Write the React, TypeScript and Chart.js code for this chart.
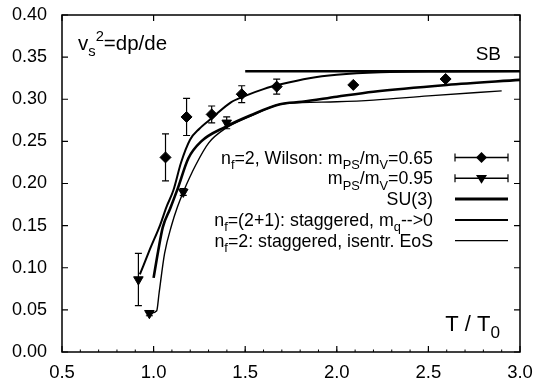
import React, { useEffect, useRef } from "react";
import { Chart, registerables } from "chart.js";

Chart.register(...registerables);

const FONT = '"Liberation Sans", Arial, Helvetica, sans-serif';

// Axis ranges / ticks
const xRange = [0.5, 3.0];
const yRange = [0.0, 0.4];
const xStep = 0.5;
const xMinorStep = 0.1;
const yStep = 0.05;

// n_f=2 Wilson, mPS/mV = 0.65 (diamonds)
const w065X = [1.065, 1.18, 1.317, 1.481, 1.672, 2.09, 2.594];
const w065Y = [0.231, 0.279, 0.282, 0.306, 0.315, 0.317, 0.324];
const w065Err = [0.028, 0.022, 0.01, 0.01, 0.009, 0.0, 0.0];

// n_f=2 Wilson, mPS/mV = 0.95 (down triangles)
const w095X = [0.917, 0.977, 1.162, 1.399];
const w095Y = [0.086, 0.046, 0.19, 0.272];
const w095Err = [0.031, 0.003, 0.004, 0.007];

// SU(3)
const su3X = [1.0, 1.025, 1.05, 1.09, 1.13, 1.19, 1.26, 1.39, 1.53, 1.69, 1.81, 2.0, 2.2, 2.6, 3.0];
const su3Y = [0.088, 0.12, 0.148, 0.17, 0.193, 0.23, 0.25, 0.267, 0.281, 0.294, 0.297, 0.303, 0.309, 0.317, 0.323];

// n_f=(2+1) staggered, m_q -> 0
const nf21X = [0.925, 0.98, 1.036, 1.07, 1.108, 1.15, 1.199, 1.25, 1.32, 1.42, 1.5, 1.6, 1.7, 1.85, 2.0, 2.24, 2.6, 3.0];
const nf21Y = [0.092, 0.122, 0.151, 0.172, 0.192, 0.225, 0.252, 0.265, 0.278, 0.296, 0.304, 0.312, 0.318, 0.325, 0.329, 0.332, 0.333, 0.3335];

// n_f=2 staggered, isentropic EoS
const nf2X = [0.985, 1.017, 1.03, 1.06, 1.099, 1.13, 1.162, 1.23, 1.3, 1.39, 1.53, 1.69, 1.81, 2.0, 2.2, 2.5, 2.9];
const nf2Y = [0.046, 0.049, 0.07, 0.117, 0.151, 0.172, 0.19, 0.222, 0.248, 0.265, 0.28, 0.294, 0.296, 0.297, 0.299, 0.304, 0.31];

// Stefan-Boltzmann limit
const sbX = [1.5, 3.0];
const sbY = [1 / 3, 1 / 3];

type Seg = { t: string; s?: "sub" | "sup" };

const legendRows: { text: Seg[]; kind: string; width: number }[] = [
  { text: [{ t: "n" }, { t: "f", s: "sub" }, { t: "=2, Wilson: m" }, { t: "PS", s: "sub" }, { t: "/m" }, { t: "V", s: "sub" }, { t: "=0.65" }], kind: "diamond", width: 1.5 },
  { text: [{ t: "m" }, { t: "PS", s: "sub" }, { t: "/m" }, { t: "V", s: "sub" }, { t: "=0.95" }], kind: "triangle", width: 1.5 },
  { text: [{ t: "SU(3)" }], kind: "line", width: 3 },
  { text: [{ t: "n" }, { t: "f", s: "sub" }, { t: "=(2+1): staggered, m" }, { t: "q", s: "sub" }, { t: "-->0" }], kind: "line", width: 2 },
  { text: [{ t: "n" }, { t: "f", s: "sub" }, { t: "=2: staggered, isentr. EoS" }], kind: "line", width: 1.3 },
];

function drawRich(ctx: CanvasRenderingContext2D, segs: Seg[], x: number, baseline: number, size: number, align: "left" | "right", smallK = 0.72) {
  const small = size * smallK;
  const fontOf = (s?: string) => `${s ? small : size}px ${FONT}`;
  let total = 0;
  for (const sg of segs) {
    ctx.font = fontOf(sg.s);
    total += ctx.measureText(sg.t).width;
  }
  let cx = align === "right" ? x - total : x;
  ctx.textAlign = "left";
  ctx.textBaseline = "alphabetic";
  for (const sg of segs) {
    ctx.font = fontOf(sg.s);
    const dy = sg.s === "sub" ? size * 0.3 : sg.s === "sup" ? -size * 0.45 : 0;
    ctx.fillText(sg.t, cx, baseline + dy);
    cx += ctx.measureText(sg.t).width;
  }
}

function drawDiamond(ctx: CanvasRenderingContext2D, x: number, y: number, r: number) {
  ctx.beginPath();
  ctx.moveTo(x, y - r);
  ctx.lineTo(x + r, y);
  ctx.lineTo(x, y + r);
  ctx.lineTo(x - r, y);
  ctx.closePath();
  ctx.fill();
}

function drawTriDown(ctx: CanvasRenderingContext2D, x: number, y: number, r: number) {
  ctx.beginPath();
  ctx.moveTo(x - r, y - r * 0.6);
  ctx.lineTo(x + r, y - r * 0.6);
  ctx.lineTo(x, y + r);
  ctx.closePath();
  ctx.fill();
}

const overlayPlugin = {
  id: "overlay",
  afterDatasetsDraw(chart: any) {
    const ctx: CanvasRenderingContext2D = chart.ctx;
    const xs = chart.scales.x;
    const ys = chart.scales.y;
    const area = chart.chartArea;
    ctx.save();
    ctx.strokeStyle = "#000";
    ctx.fillStyle = "#000";

    // error bars
    const errSets = [
      { X: w065X, Y: w065Y, E: w065Err },
      { X: w095X, Y: w095Y, E: w095Err },
    ];
    ctx.lineWidth = 1.2;
    for (const s of errSets) {
      s.X.forEach((xv, i) => {
        const e = s.E[i];
        if (!e) return;
        const px = xs.getPixelForValue(xv);
        const p1 = ys.getPixelForValue(s.Y[i] + e);
        const p2 = ys.getPixelForValue(s.Y[i] - e);
        ctx.beginPath();
        ctx.moveTo(px, p1);
        ctx.lineTo(px, p2);
        ctx.moveTo(px - 3.5, p1);
        ctx.lineTo(px + 3.5, p1);
        ctx.moveTo(px - 3.5, p2);
        ctx.lineTo(px + 3.5, p2);
        ctx.stroke();
      });
    }

    // frame
    ctx.lineWidth = 1.5;
    ctx.strokeRect(area.left, area.top, area.right - area.left, area.bottom - area.top);

    // inward ticks
    ctx.lineWidth = 1.2;
    const tl = 6;
    for (const t of xs.ticks) {
      const px = xs.getPixelForValue(t.value);
      ctx.beginPath();
      ctx.moveTo(px, area.bottom);
      ctx.lineTo(px, area.bottom - tl);
      ctx.moveTo(px, area.top);
      ctx.lineTo(px, area.top + tl);
      ctx.stroke();
    }
    // minor ticks on the bottom axis
    ctx.lineWidth = 1;
    const nMinor = Math.round((xRange[1] - xRange[0]) / xMinorStep);
    for (let k = 1; k < nMinor; k++) {
      const v = xRange[0] + k * xMinorStep;
      const px = xs.getPixelForValue(v);
      ctx.beginPath();
      ctx.moveTo(px, area.bottom);
      ctx.lineTo(px, area.bottom - 2.5);
      ctx.stroke();
    }
    ctx.lineWidth = 1.2;
    for (const t of ys.ticks) {
      const py = ys.getPixelForValue(t.value);
      ctx.beginPath();
      ctx.moveTo(area.left, py);
      ctx.lineTo(area.left + tl, py);
      ctx.moveTo(area.right, py);
      ctx.lineTo(area.right - tl, py);
      ctx.stroke();
    }

    // annotations
    drawRich(ctx, [{ t: "v" }, { t: "s", s: "sub" }, { t: "2", s: "sup" }, { t: "=dp/de" }], area.left + 16, 50, 20.5, "left");
    drawRich(ctx, [{ t: "SB" }], area.right - 19, 60, 19, "right");
    drawRich(ctx, [{ t: "T / T" }, { t: "0", s: "sub" }], area.right - 20, 331, 22, "right", 0.78);

    // legend
    const textRight = area.left + 371;
    const lx1 = area.left + 393;
    const lx2 = area.left + 446;
    const rowTop = 157.5;
    const rowGap = 20.8;
    legendRows.forEach((row, i) => {
      const cy = rowTop + i * rowGap;
      drawRich(ctx, row.text, textRight, cy + 6, 17.8, "right");
      ctx.lineWidth = row.width;
      ctx.beginPath();
      ctx.moveTo(lx1, cy);
      ctx.lineTo(lx2, cy);
      ctx.stroke();
      if (row.kind !== "line") {
        ctx.lineWidth = 1.2;
        ctx.beginPath();
        ctx.moveTo(lx1, cy - 4);
        ctx.lineTo(lx1, cy + 4);
        ctx.moveTo(lx2, cy - 4);
        ctx.lineTo(lx2, cy + 4);
        ctx.stroke();
        const mx = (lx1 + lx2) / 2;
        if (row.kind === "diamond") drawDiamond(ctx, mx, cy, 5.5);
        else drawTriDown(ctx, mx, cy, 5.5);
      }
    });
    ctx.restore();
  },
};

const pts = (xs: number[], ys: number[]) => xs.map((x, i) => ({ x, y: ys[i] }));

export default function App() {
  const ref = useRef<HTMLCanvasElement>(null);
  useEffect(() => {
    document.body.style.margin = "0";
    const canvas = ref.current!;
    const lineDs = (label: string, xs: number[], ys: number[], w: number) => ({
      label,
      data: pts(xs, ys),
      showLine: true,
      borderColor: "#000",
      borderWidth: w,
      pointRadius: 0,
      cubicInterpolationMode: "monotone" as const,
      fill: false,
    });
    const chart = new Chart(canvas, {
      type: "scatter",
      data: {
        datasets: [
          lineDs("SB", sbX, sbY, 2.5),
          lineDs("SU(3)", su3X, su3Y, 2.6),
          lineDs("nf=(2+1)", nf21X, nf21Y, 2),
          lineDs("nf=2 isentr", nf2X, nf2Y, 1.4),
          {
            label: "0.65",
            data: pts(w065X, w065Y),
            pointStyle: "rectRot",
            pointRadius: 5.5,
            backgroundColor: "#000",
            borderColor: "#000",
            borderWidth: 1,
            showLine: false,
          },
          {
            label: "0.95",
            data: pts(w095X, w095Y),
            pointStyle: "triangle",
            rotation: 180,
            pointRadius: 5.5,
            backgroundColor: "#000",
            borderColor: "#000",
            borderWidth: 1,
            showLine: false,
          },
        ],
      },
      options: {
        animation: false,
        responsive: false,
        devicePixelRatio: 1,
        layout: { padding: { top: 15, right: 15, left: 0, bottom: 0 } },
        plugins: { legend: { display: false }, tooltip: { enabled: false } },
        scales: {
          x: {
            type: "linear",
            min: xRange[0],
            max: xRange[1],
            ticks: {
              stepSize: xStep,
              color: "#000",
              font: { family: FONT, size: 18.5 },
              padding: 10,
              maxRotation: 0,
              callback: (v: any) => Number(v).toFixed(1),
            },
            grid: { display: false, drawTicks: false },
            border: { display: false },
            afterFit: (s: any) => {
              s.height = 33;
              s.paddingLeft = 0;
              s.paddingRight = 0;
            },
          },
          y: {
            type: "linear",
            min: yRange[0],
            max: yRange[1],
            ticks: {
              stepSize: yStep,
              color: "#000",
              font: { family: FONT, size: 18 },
              padding: 15,
              callback: (v: any) => Number(v).toFixed(2),
            },
            grid: { display: false, drawTicks: false },
            border: { display: false },
            afterFit: (s: any) => {
              s.width = 62;
              s.paddingTop = 0;
              s.paddingBottom = 0;
            },
          },
        },
      },
      plugins: [overlayPlugin],
    });
    return () => chart.destroy();
  }, []);
  return (
    <div style={{ width: 535, height: 385 }}>
      <canvas ref={ref} width={535} height={385} style={{ display: "block" }} />
    </div>
  );
}
